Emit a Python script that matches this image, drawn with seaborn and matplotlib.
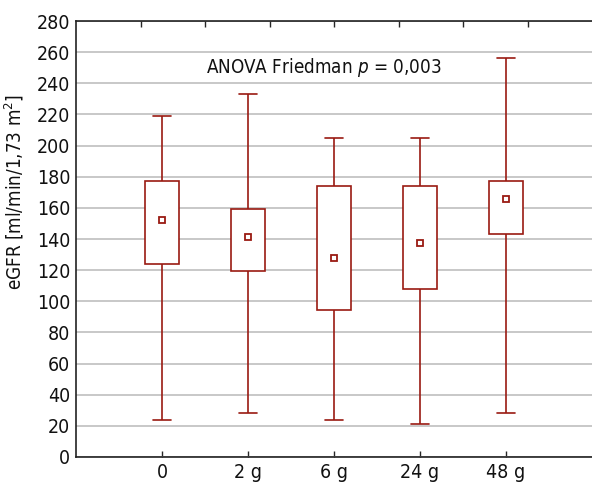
import pandas as pd
import seaborn as sns
import matplotlib.pyplot as plt

# Box statistics (min, Q1, median, Q3, max)
groups = ['0', '2 g', '6 g', '24 g', '48 g']
mins = [24, 28, 24, 21, 28]
q1s = [124, 119.5, 94.5, 108, 143]
medians = [152, 141.5, 128, 137.5, 166]
q3s = [177, 159, 174, 174, 177]
maxs = [219, 233, 205, 205, 256]

red = '#9a1a12'
grid_grey = '#c4c4c4'

sns.set_style('white')
plt.rcParams['font.family'] = ['DejaVu Sans']
plt.rcParams['font.stretch'] = 'condensed'
plt.rcParams['mathtext.fontset'] = 'custom'
plt.rcParams['mathtext.rm'] = 'DejaVu Sans:stretch=condensed'
plt.rcParams['mathtext.it'] = 'DejaVu Sans:italic:stretch=condensed'

# Five points per group -> quartiles land exactly on the read values
rows = []
for g, a, b, c, d, e in zip(groups, mins, q1s, medians, q3s, maxs):
    for v in (a, b, c, d, e):
        rows.append({'group': g, 'value': v})
df = pd.DataFrame(rows)

fig = plt.figure(figsize=(5.92, 4.83), dpi=100)
ax = fig.add_axes([76 / 592, 1 - 457 / 483, 1 - 76 / 592, (457 - 21) / 483])

sns.boxplot(data=df, x='group', y='value', order=groups, whis=(0, 100),
            width=0.4, color='white', linecolor=red, linewidth=1.2,
            medianprops={'visible': False}, ax=ax)

# Median markers
sns.pointplot(x=groups, y=medians, order=groups, linestyle='none', marker='s',
              markersize=5, markerfacecolor='white', markeredgecolor=red,
              markeredgewidth=1.3, color=red, errorbar=None, zorder=5, ax=ax)

ax.set_xlim(-1, 5)
ax.set_ylim(0, 280)
ax.set_yticks(range(0, 281, 20))
ax.yaxis.grid(True, color=grid_grey, lw=1.3)
ax.set_axisbelow(True)

for side in ('left', 'bottom', 'top'):
    ax.spines[side].set_color('#222222')
    ax.spines[side].set_linewidth(1.2)
ax.spines['right'].set_visible(False)

ax.tick_params(axis='y', length=0, labelsize=14, pad=4, labelcolor='#111111')
ax.tick_params(axis='x', direction='in', length=4, width=1, labelsize=14,
               pad=4, labelcolor='#111111')

# top axis ticks (no labels)
top = ax.twiny()
top.set_xlim(0, 8)
top.set_xticks(range(1, 8))
top.tick_params(axis='x', direction='in', length=4, width=1, labeltop=False)
for s in top.spines.values():
    s.set_visible(False)

ax.set_xlabel('')
ax.set_ylabel('eGFR [ml/min/1,73 m$^2$]', fontsize=13.5, color='#111111')
ax.yaxis.set_label_coords(-0.097, 0.608)

ax.text(1.88, 250, 'ANOVA Friedman $p$ = 0,003', ha='center', va='center',
        fontsize=13.5, color='#111111')

fig.savefig('out.png', dpi=100)
